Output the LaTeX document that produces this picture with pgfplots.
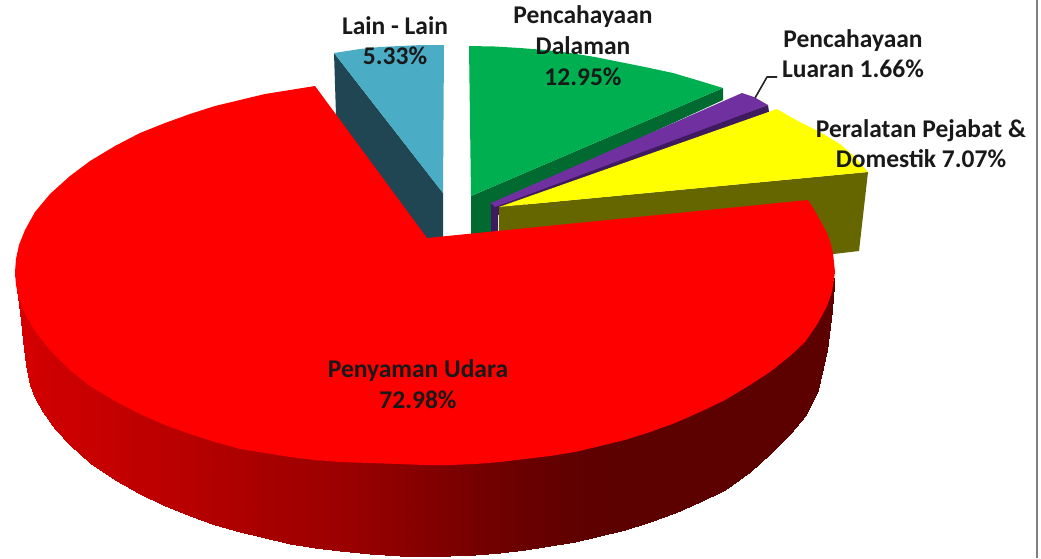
\documentclass[border=0pt]{standalone}
\usepackage{fontspec}
\setmainfont{Carlito}
\usepackage{pgfplots}
\usepgfplotslibrary{patchplots}
\pgfplotsset{compat=1.18}
\usepackage{pgfplotstable}
\definecolor{cBlue}{HTML}{4BACC6}
\definecolor{cBlueD}{HTML}{1F4652}
\definecolor{cGreen}{HTML}{00B050}
\definecolor{cGreenD}{HTML}{006A30}
\definecolor{cPurple}{HTML}{7030A0}
\definecolor{cPurpleD}{HTML}{3E1A5E}
\definecolor{cOlive}{HTML}{666600}
\definecolor{cRed}{HTML}{FF0000}
\definecolor{cYellow}{rgb}{1,1,0}
\tikzset{lbl/.style={font=\fontsize{25.5}{27}\selectfont\bfseries, text=black!90, inner sep=0pt}}
\pgfplotstableread{
x y c
15 272 212
17 284 212
20 296 212
23 306 212
26 313 212
30 320 212
35 328 210
43 339 207
55 352 205
70 366 203
90 383 200
115 398 196
140 411 191
165 422 187
190 431 184
215 439 178
240 446 173
265 451 167
290 454 163
315 457 159
340 459 156
370 460 148
400 461 140
425 462 132
450 461 125
475 461 118
500 459 112
525 456 105
550 453 100
575 449 96
600 443 94
625 437 92
650 429 92
675 420 92
700 409 92
725 397 92
750 382 92
770 369 92
790 353 92
805 339 92
818 320 92
827 303 92
832 289 92
834 278 92
15 272 212
17 290 212
20 312 212
23 340 212
26 365 212
30 385 212
35 398 210
43 412 207
55 429 205
70 445 203
90 463 200
115 480 196
140 494 191
165 506 187
190 516 184
215 525 178
240 532 173
265 538 167
290 544 163
315 548 159
340 551 156
370 554 148
400 556 140
425 556 132
450 556 125
475 555 118
500 553 112
525 550 105
550 546 100
575 542 96
600 536 94
625 530 92
650 522 92
675 513 92
700 502 92
725 490 92
750 472 92
770 454 92
790 434 92
805 416 92
818 390 92
827 350 92
832 310 92
834 285 92
}\redside
\begin{document}
\begin{tikzpicture}
\begin{axis}[
  width=1041pt, height=558pt, scale only axis,
  xmin=0, xmax=1041, ymin=0, ymax=558, y dir=reverse,
  axis lines=none, clip=true,
  colormap={redside}{rgb255(0)=(92,0,0); rgb255(1)=(212,0,0)},
  point meta min=92, point meta max=212,
  every axis plot/.append style={line join=round},
]
% background and frame line
\addplot[fill=white, draw=none] coordinates {(0,0)(1041,0)(1041,558)(0,558)} -- cycle;
\addplot[draw=black!50, line width=2pt] coordinates {(1037,0)(1037,558)};
% Lain - Lain 5.33
\addplot[fill=cBlueD, draw=none] coordinates {(334,53)(336,115)(425,240)(443,240)(443,193)} -- cycle;
\addplot[fill=cBlue, draw=none] coordinates {(334,53)(347,51)(360,49)(380,47)(400,46)(422,45)(444,45)(443,193)} -- cycle;
% Pencahayaan Dalaman 12.95
\addplot[fill=cGreenD, draw=none] coordinates {(471,196)(723,88)(723,100)(560,175)(491,205)(491,240)(471,240)} -- cycle;
\addplot[fill=cGreen, draw=none] coordinates {(469,46)(495,46.5)(520,48)(545,50)(570,53)(595,57)(620,62)(645,67)(673,73)(700,81)(723,88)(471,196)} -- cycle;
% Pencahayaan Luaran 1.66
\addplot[fill=cPurpleD, draw=none] coordinates {(491,203)(768,105)(769,112)(640,160)(498,215)(498,240)(491,240)} -- cycle;
\addplot[fill=cPurple, draw=none] coordinates {(491,203)(742,93)(754,97)(768,105)(495,207)} -- cycle;
% Peralatan Pejabat & Domestik 7.07
\addplot[fill=cOlive, draw=none] coordinates {(499,207)(868,172)(859,251)(825,255)(499,240)} -- cycle;
\addplot[fill=cYellow, draw=none] coordinates {(499,207)(777,109)(789,116)(800,122)(820,132)(840,144)(855,157)(868,172)} -- cycle;
% Penyaman Udara 72.98: side wall
\addplot[surf, shader=interp, mesh/rows=2, point meta=explicit] table[x=x, y=y, meta=c] {\redside};
% top
\addplot[fill=cRed, draw=none] coordinates {
(427,238)(315,86)(290,90)(265,94)(240,100)(215,106)(190,114)(165,123)(140,133)(115,146)(90,161)(70,176)(50,194)(35,212)(25,230)(19,245)(16,259)
(15,272)(16,285)(19,299)(25,314)(35,331)(50,350)(70,370)(90,386)(115,401)(140,414)(165,425)(190,434)(215,442)(240,449)(265,453)(290,457)(315,460)(340,462)(370,463)(400,464)
(425,465)(450,465)(475,464)(500,462)(525,459)(550,456)(575,452)(600,446)(625,440)(650,432)(675,423)(700,412)(725,400)(750,385)(770,372)(790,356)(805,342)(818,323)(827,306)(832,292)
(835,272)(833,253)(830,241)(827,233)(820,220)(815,211)(808,200)} -- cycle;
% leader
\addplot[draw=black!85, line width=1.6pt] coordinates {(755,98)(767,77)(777,77)};
% labels
\node[lbl] at (axis cs:395,26) {Lain - Lain};
\node[lbl] at (axis cs:395,56) {5.33\%};
\node[lbl] at (axis cs:583,17) {Pencahayaan};
\node[lbl] at (axis cs:583,46) {Dalaman};
\node[lbl] at (axis cs:583,77) {12.95\%};
\node[lbl] at (axis cs:853,41) {Pencahayaan};
\node[lbl] at (axis cs:853,69) {Luaran 1.66\%};
\node[lbl] at (axis cs:921,131) {Peralatan Pejabat \&};
\node[lbl] at (axis cs:921,159) {Domestik 7.07\%};
\node[lbl] at (axis cs:418,371) {Penyaman Udara};
\node[lbl] at (axis cs:418,400) {72.98\%};
\end{axis}
\end{tikzpicture}
\end{document}
